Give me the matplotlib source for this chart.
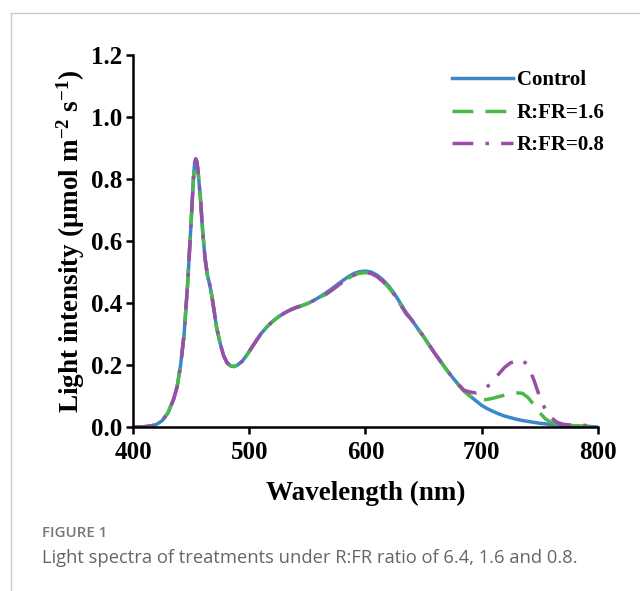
import matplotlib
matplotlib.use('Agg')
import matplotlib.pyplot as plt
from matplotlib.lines import Line2D

plt.rcParams['font.family'] = 'Liberation Serif'
plt.rcParams['font.weight'] = 'bold'
plt.rcParams['mathtext.fontset'] = 'custom'
plt.rcParams['mathtext.rm'] = 'Liberation Serif:bold'
plt.rcParams['mathtext.bf'] = 'Liberation Serif:bold'
plt.rcParams['mathtext.default'] = 'bf'

# 数据 (波长 nm)
wl = [400, 410, 415, 420, 425, 430, 435, 438, 441, 444, 447, 450, 452, 453, 454, 455, 456,
      458, 460, 462, 464, 466, 468, 470, 472, 475, 478, 481, 484, 487, 490, 494, 498, 502,
      506, 510, 515, 520, 525, 530, 535, 540, 545, 550, 555, 560, 565, 570, 575, 580, 585,
      590, 595, 600, 605, 610, 615, 620, 625, 630, 635, 640, 645, 650, 655, 660, 665, 670,
      675, 680, 685, 690, 695, 700, 705, 710, 715, 720, 725, 730, 735, 740, 745, 750, 755,
      760, 765, 770, 775, 780, 785, 790, 795, 800]

# 共同部分 400-680 nm
base = [0.0, 0.001, 0.003, 0.008, 0.02, 0.045, 0.09, 0.13, 0.2, 0.3, 0.46, 0.66, 0.8, 0.85,
        0.865, 0.855, 0.825, 0.74, 0.63, 0.545, 0.49, 0.46, 0.42, 0.37, 0.32, 0.27, 0.23,
        0.207, 0.197, 0.195, 0.2, 0.212, 0.232, 0.255, 0.278, 0.3, 0.322, 0.34, 0.355,
        0.367, 0.377, 0.385, 0.391, 0.398, 0.407, 0.418, 0.43, 0.443, 0.457, 0.471, 0.484,
        0.495, 0.501, 0.503, 0.5, 0.49, 0.475, 0.455, 0.43, 0.4, 0.37, 0.345, 0.318, 0.292,
        0.264, 0.236, 0.21, 0.184, 0.16, 0.137]

control_tail = [0.117, 0.1, 0.085, 0.07, 0.059, 0.05, 0.042, 0.035, 0.03, 0.025, 0.021,
                0.018, 0.015, 0.012, 0.01, 0.008, 0.006, 0.005, 0.004, 0.003, 0.002, 0.001,
                0.001, 0.0]
rfr16_tail = [0.115, 0.1, 0.09, 0.087, 0.089, 0.093, 0.098, 0.103, 0.107, 0.11, 0.109, 0.095,
              0.072, 0.046, 0.026, 0.015, 0.009, 0.006, 0.005, 0.004, 0.003, 0.003, 0.002,
              0.002]
rfr08_tail = [0.118, 0.113, 0.11, 0.115, 0.13, 0.15, 0.172, 0.193, 0.207, 0.214, 0.218,
              0.197, 0.152, 0.097, 0.055, 0.03, 0.015, 0.009, 0.007, 0.006, 0.006, 0.005,
              0.005, 0.005]

control = base + control_tail
rfr16 = [v * 0.99 if 560 < w < 640 else v for w, v in zip(wl, base)] + rfr16_tail
rfr08 = [v * 0.99 if 560 < w < 640 else v for w, v in zip(wl, base)] + rfr08_tail

fig = plt.figure(figsize=(6.4, 5.91), dpi=100)
ax = fig.add_axes([0.2078, 0.2775, 0.7262, 0.6294])

ax.plot(wl, control, color='#3d86c8', lw=2.5, label='Control')
ax.plot(wl, rfr16, color='#4cb84a', lw=2.5, dashes=(6, 3.5), label='R:FR=1.6')
ax.plot(wl, rfr08, color='#9b4da8', lw=2.5, dashes=(6, 3.5, 1, 3.5), label='R:FR=0.8')

ax.set_xlim(400, 800)
ax.set_ylim(0, 1.2)
ax.set_xticks([400, 500, 600, 700, 800])
ax.set_yticks([0.0, 0.2, 0.4, 0.6, 0.8, 1.0, 1.2])
ax.set_yticklabels(['0.0', '0.2', '0.4', '0.6', '0.8', '1.0', '1.2'])
for s in ['top', 'right']:
    ax.spines[s].set_visible(False)
for s in ['left', 'bottom']:
    ax.spines[s].set_linewidth(1.8)
ax.tick_params(direction='out', length=5, width=1.8, labelsize=18)
ax.tick_params(axis='x', pad=5)
ax.tick_params(axis='y', pad=3)

ax.set_xlabel('Wavelength (nm)', fontsize=19.5, fontweight='bold')
ax.set_ylabel(r'Light intensity (μmol m$^{-2}$ s$^{-1}$)', fontsize=19.5, fontweight='bold')
ax.xaxis.set_label_coords(0.5, -0.145)
ax.yaxis.set_label_coords(-0.1, 0.5)

ax.legend(loc='upper right', bbox_to_anchor=(1.055, 1.009), frameon=False, fontsize=15,
          handlelength=2.9, handletextpad=0.2, labelspacing=0.6)

# 图注
fig.text(42 / 640, 1 - 533 / 591, 'FIGURE 1', family='Open Sans', fontsize=10.8,
         color='#777777', weight='semibold', va='center')
fig.text(42 / 640, 1 - 558 / 591, 'Light spectra of treatments under R:FR ratio of 6.4, 1.6 and 0.8.',
         family='Open Sans', fontsize=13.2, color='#666666', weight='normal', va='center')

# 边框
fig.add_artist(Line2D([11 / 640, 1], [1 - 13 / 591] * 2, transform=fig.transFigure,
                      color='#cccccc', lw=1))
fig.add_artist(Line2D([11 / 640] * 2, [0, 1 - 13 / 591], transform=fig.transFigure,
                      color='#cccccc', lw=1))

fig.savefig('out.png', dpi=100)
